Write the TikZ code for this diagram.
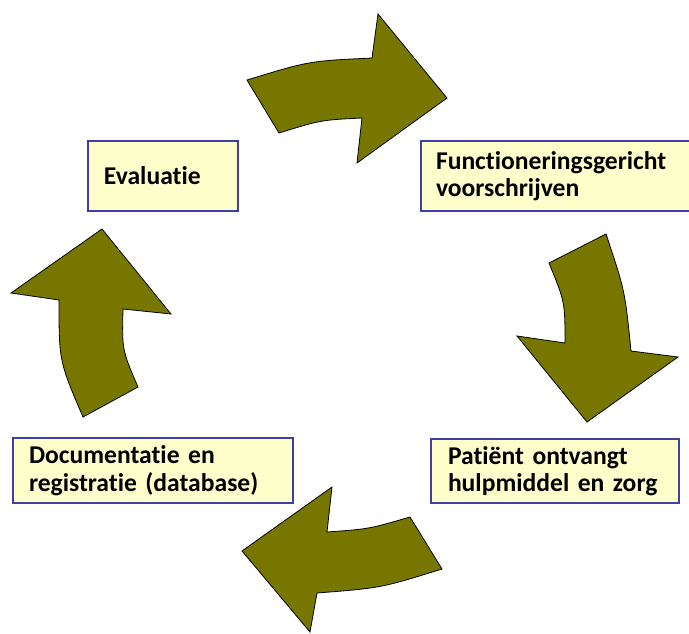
\documentclass[tikz,border=0pt]{standalone}
\usepackage{fontspec}
\setmainfont{Carlito}[Ligatures=NoCommon]
\definecolor{arrowfill}{RGB}{119,119,0}
\definecolor{boxfill}{RGB}{255,255,204}
\definecolor{boxline}{RGB}{64,64,160}
\tikzset{
  cyclearrow/.style={fill=arrowfill, draw=black, line width=0.8pt, line join=miter},
  stagebox/.style={draw=boxline, fill=boxfill, line width=2pt, anchor=north west,
    align=left, inner xsep=0pt, inner ysep=0pt,
    font=\bfseries\fontsize{25.6}{27.5}\selectfont},
}
\begin{document}
\begin{tikzpicture}[x=1pt, y=-1pt]
\useasboundingbox (0,0) rectangle (689,633);

% curved arrows of the cycle
\draw[cyclearrow] (247,80) .. controls (309,61) .. (372,58) -- (378,14) -- (447,98)
  -- (357,163) -- (362,118) .. controls (321,120) .. (279,133) -- cycle;
\draw[cyclearrow] (606,234) .. controls (625,291) .. (631,351) -- (678,357) -- (587,422)
  -- (517,336) -- (565,343) .. controls (565,302) .. (549,263) -- cycle;
\draw[cyclearrow] (410,517) .. controls (369,529) .. (327,532) -- (332,487) -- (242,551)
  -- (310,632) -- (317,593) .. controls (381,588) .. (442,569) -- cycle;
\draw[cyclearrow] (138,387) .. controls (122,350) .. (123,309) -- (171,314) -- (102,229)
  -- (11,293) -- (59,300) .. controls (59,361) .. (83,417) -- cycle;

% stage boxes
\node[stagebox, minimum width=150pt, minimum height=70pt, text width=150pt] (eval) at (87,140)
  {\hspace*{16pt}Evaluatie};
\node[stagebox, minimum width=280pt, minimum height=70pt, text width=280pt] (presc) at (420,140)
  {\hspace*{15pt}Functioneringsgericht\\\hspace*{15pt}voorschrijven};
\node[stagebox, minimum width=248pt, minimum height=64pt, text width=248pt] (recv) at (430,438)
  {\hspace*{17pt}Patiënt ontvangt\\\hspace*{17pt}hulpmiddel en zorg};
\node[stagebox, minimum width=280pt, minimum height=65pt, text width=280pt] (docu) at (12,437)
  {\hspace*{16pt}Documentatie en\\\hspace*{16pt}registratie (database)};
\end{tikzpicture}
\end{document}
